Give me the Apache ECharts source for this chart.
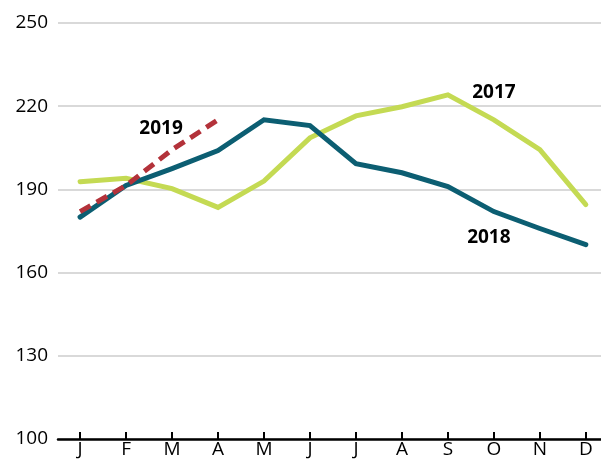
<!DOCTYPE html>
<html>
<head>
<meta charset="utf-8">
<script src="https://cdn.jsdelivr.net/npm/echarts@6/dist/echarts.min.js"></script>
<style>
  html, body { margin: 0; padding: 0; background: #fff; }
  #chart { width: 601px; height: 459px; }
</style>
</head>
<body>
<div id="chart"></div>
<script>
var months = ['J', 'F', 'M', 'A', 'M', 'J', 'J', 'A', 'S', 'O', 'N', 'D']
var yTicks = [100, 130, 160, 190, 220, 250]
var s2017 = [192.8, 194, 190.3, 183.5, 193, 208.6, 216.5, 219.8, 224.1, 215.1, 204.3, 184.5]
var s2018 = [180, 191.4, 197.5, 204, 215.1, 213, 199.3, 196, 191, 182, 175.9, 170.1]
var s2019 = [182, 191.4, 204.3, 215.1]

function pairs (arr) {
  return arr.map(function (v, i) { return [i, v] })
}

// put the series name as a label next to one point
function withLabel (arr, idx, text, pos, offset) {
  return pairs(arr).map(function (p, i) {
    if (i !== idx) return p
    return { value: p, label: { show: true, formatter: text, position: pos, offset: offset } }
  })
}

var chart = echarts.init(document.getElementById('chart'))
var font = '"Open Sans", "Noto Sans", sans-serif'
var nameLabel = { show: false, fontWeight: 'bold', fontSize: 19, color: '#000', fontFamily: font }

chart.setOption({
  animation: false,
  grid: { left: 58, right: 0, top: 23, bottom: 20 },
  xAxis: {
    type: 'value',
    min: -0.48,
    max: 11.33,
    splitLine: { show: false },
    axisLine: { show: true, onZero: false, lineStyle: { color: '#000', width: 2.5 } },
    axisTick: {
      show: true, inside: true, length: 7,
      customValues: months.map(function (m, i) { return i }),
      lineStyle: { color: '#000', width: 2 }
    },
    axisLabel: {
      customValues: months.map(function (m, i) { return i }),
      formatter: function (v) { return months[Math.round(v)] },
      color: '#000', fontSize: 19, fontFamily: font, margin: 1
    }
  },
  yAxis: {
    type: 'value',
    min: yTicks[0],
    max: yTicks[yTicks.length - 1],
    interval: 30,
    axisLine: { show: false },
    axisTick: { show: false },
    splitLine: { lineStyle: { color: '#cccccc', width: 1.5 } },
    axisLabel: { color: '#000', fontSize: 19, fontFamily: font, margin: 10 }
  },
  series: [
    {
      name: '2017', type: 'line', symbol: 'circle', symbolSize: 0, z: 1,
      data: withLabel(s2017, 8, '2017', 'top', [46, 12]),
      lineStyle: { color: '#c4da53', width: 5, cap: 'round', join: 'miter' },
      label: nameLabel
    },
    {
      name: '2018', type: 'line', symbol: 'circle', symbolSize: 0, z: 2,
      data: withLabel(s2018, 9, '2018', 'bottom', [-5, 12]),
      lineStyle: { color: '#0c5e72', width: 5, cap: 'round', join: 'miter' },
      label: nameLabel
    },
    {
      name: '2019', type: 'line', symbol: 'circle', symbolSize: 0, z: 3,
      data: withLabel(s2019, 2, '2019', 'top', [-11, -7]),
      lineStyle: { color: '#b3323a', width: 5, type: [12, 7], cap: 'butt' },
      label: nameLabel
    }
  ]
})
</script>
</body>
</html>
